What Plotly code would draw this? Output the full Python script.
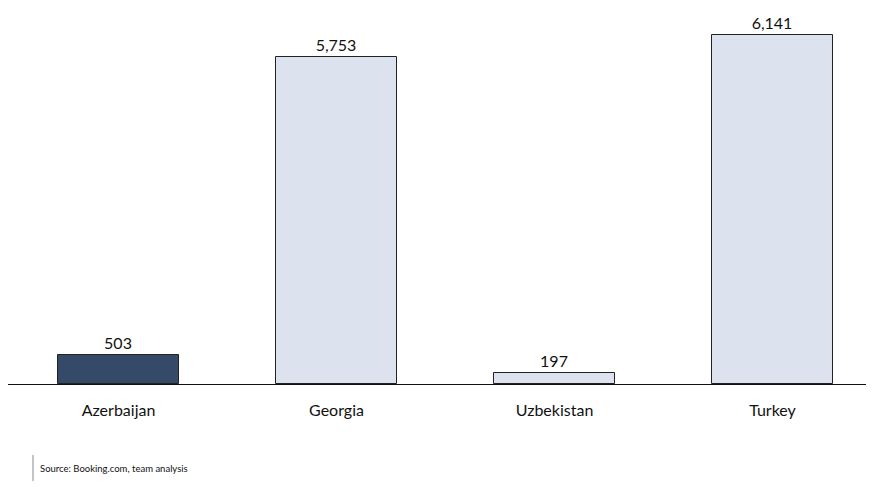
import plotly.graph_objects as go

countries = ["Azerbaijan", "Georgia", "Uzbekistan", "Turkey"]
values = [503, 5753, 197, 6141]
bar_colors = ["#344A68", "#DDE3EE", "#DDE3EE", "#DDE3EE"]

fig = go.Figure()
fig.add_trace(go.Bar(
    x=list(range(len(countries))),
    y=values,
    width=0.555,
    marker=dict(color=bar_colors, line=dict(color="#222222", width=1)),
    text=[f"{v:,}" for v in values],
    textposition="outside",
    cliponaxis=False,
    textfont=dict(family="Lato, sans-serif", size=16, color="#111111"),
    hoverinfo="skip",
))

fig.update_layout(
    width=872, height=487,
    margin=dict(l=8, r=6, t=20, b=103),
    paper_bgcolor="white", plot_bgcolor="white",
    showlegend=False,
    bargap=0,
    xaxis=dict(
        range=[-0.507, 3.429],
        tickmode="array",
        tickvals=list(range(len(countries))),
        ticktext=countries,
        showgrid=False, zeroline=False,
        showline=True, linecolor="#111111", linewidth=1,
        ticks="", ticklen=0,
        ticklabelstandoff=12,
        tickfont=dict(family="Lato, sans-serif", size=16, color="#111111"),
    ),
    yaxis=dict(range=[0, 6405], visible=False, showgrid=False, zeroline=False),
    shapes=[dict(type="line", xref="paper", yref="paper",
                 x0=(33 - 8) / 858, x1=(33 - 8) / 858,
                 y0=-(455 - 384) / 364, y1=-(481 - 384) / 364,
                 line=dict(color="#888888", width=1))],
    annotations=[dict(
        text="Source: Booking.com, team analysis",
        xref="paper", yref="paper",
        x=(38 - 8) / 858, y=-(468 - 384) / 364,
        xanchor="left", yanchor="middle", showarrow=False,
        font=dict(family="Lato, sans-serif", size=9.5, color="#111111"),
    )],
)

fig.write_html("out.html")
